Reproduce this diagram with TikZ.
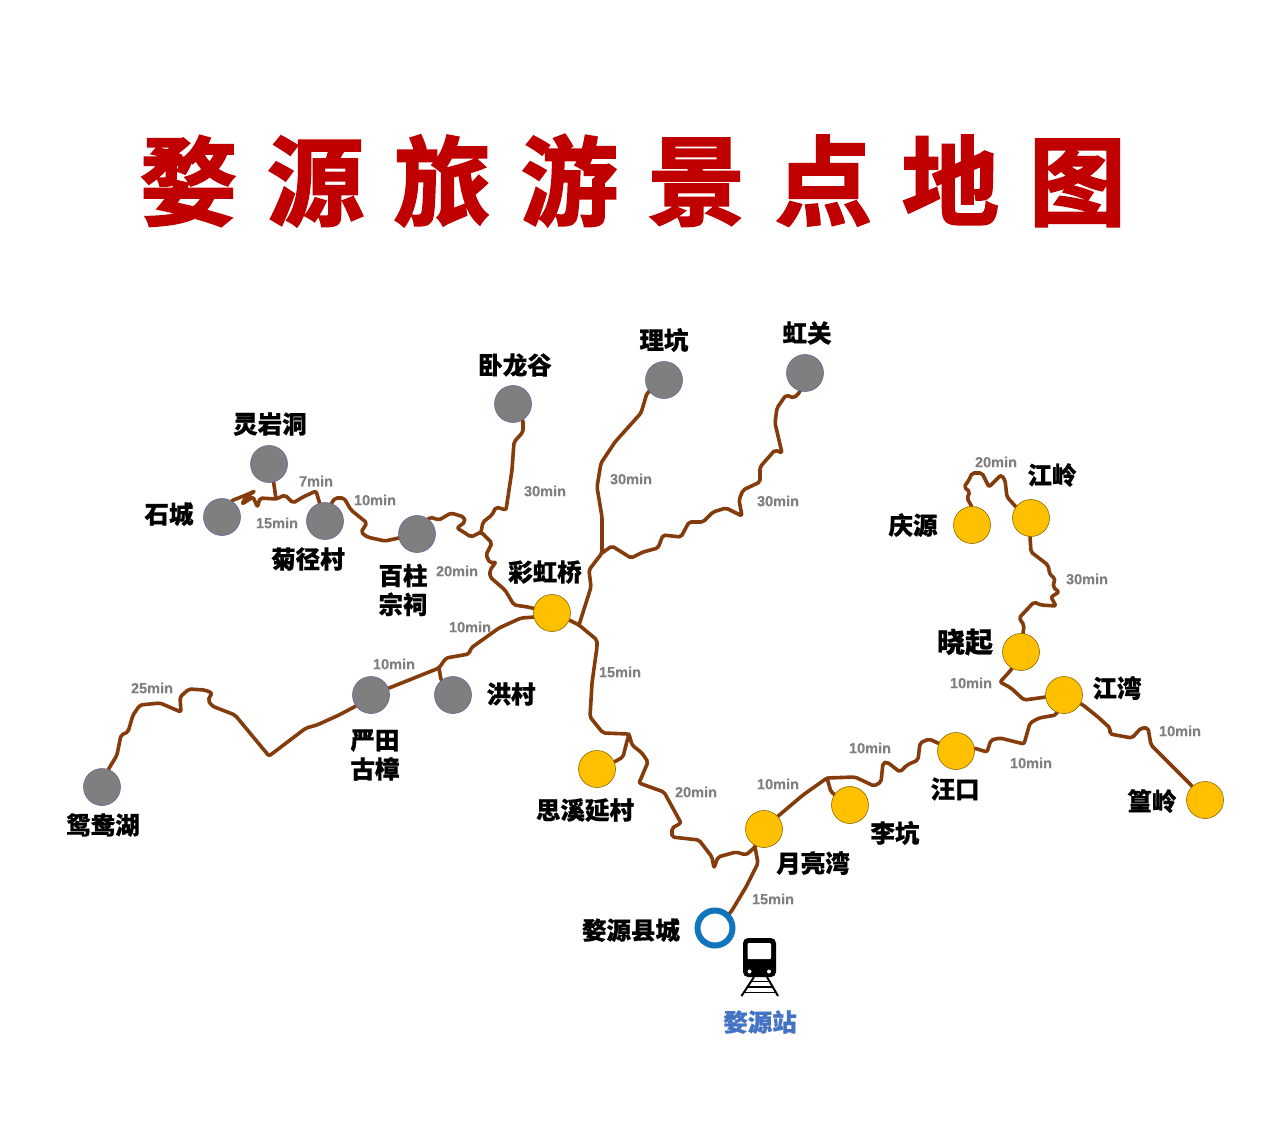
\documentclass[tikz,border=0pt]{standalone}
\usepackage{fontspec}
\setmainfont{Noto Sans CJK SC}[BoldFeatures={FakeBold=0.6}]
\newfontfamily\titlefont{Noto Sans CJK SC Bold}[FakeBold=2.2]
\newfontfamily\timefont{Liberation Sans}[BoldFeatures={FakeBold=0.2}]
\usetikzlibrary{backgrounds}
\definecolor{roadc}{HTML}{843C0C}
\definecolor{grayc}{HTML}{7F7F7F}
\definecolor{yellowc}{HTML}{FFC000}
\definecolor{titlec}{HTML}{C00000}
\definecolor{ringc}{HTML}{0F75BC}
\definecolor{stationc}{HTML}{4472C4}
\definecolor{timec}{HTML}{7F7F7F}
\tikzset{
  spotgray/.style={circle,minimum size=37pt,inner sep=0pt,fill=grayc,draw=grayc!80!blue,line width=.6pt},
  spotyellow/.style={circle,minimum size=37pt,inner sep=0pt,fill=yellowc,draw=yellowc!55!black,line width=.6pt},
  place/.style={font=\fontsize{24.5}{29}\selectfont\bfseries,text=black,inner sep=0pt,align=center},
  timing/.style={font=\timefont\fontsize{14.5}{16}\selectfont\bfseries,text=timec,inner sep=0pt},
  road/.style={draw=roadc,line width=3.6pt,line join=round,line cap=round,rounded corners=2pt},
}
\begin{document}
\begin{tikzpicture}[x=1pt,y=-1pt]
\useasboundingbox (0,0) rectangle (1280,1136);
\node[font=\titlefont\fontsize{97}{100}\selectfont,text=titlec,inner sep=0pt] (title) at (633,180.5)
  {婺\hspace{30pt}源\hspace{30pt}旅\hspace{30pt}游\hspace{30pt}景\hspace{30pt}点\hspace{30pt}地\hspace{30pt}图};

% spots
\node[spotgray] (lingyan) at (269,464) {};
\node[spotgray] (shicheng) at (222,517) {};
\node[spotgray] (jujing) at (325,521) {};
\node[spotgray] (baizhu) at (417,534) {};
\node[spotgray] (wolong) at (513,404) {};
\node[spotgray] (likeng) at (664,380) {};
\node[spotgray] (hongguan) at (805,373) {};
\node[spotgray] (yantian) at (371,695) {};
\node[spotgray] (hongcun) at (453,695) {};
\node[spotgray] (yuanyang) at (102,787) {};
\node[spotyellow] (caihong) at (552,613) {};
\node[spotyellow] (sixi) at (597,769) {};
\node[spotyellow] (yueliang) at (764,829) {};
\node[spotyellow] (likeng2) at (850,805) {};
\node[spotyellow] (wangkou) at (956,751) {};
\node[spotyellow] (jiangwan) at (1064,695) {};
\node[spotyellow] (xiaoqi) at (1021,652) {};
\node[spotyellow] (jiangling) at (1031,518) {};
\node[spotyellow] (qingyuan) at (972,525) {};
\node[spotyellow] (huangling) at (1205,800) {};
\node[circle,minimum size=35pt,inner sep=0pt,draw=ringc,line width=6pt,fill=white] (county) at (715,928) {};

% junctions
\coordinate (j1) at (276,499);
\coordinate (j2) at (481,532);
\coordinate (j3) at (439,668);
\coordinate (j4) at (602,553);
\coordinate (j5) at (579,625);
\coordinate (j6) at (629,734);
\coordinate (j7) at (827,778);
\coordinate (j8) at (755,847);

\begin{scope}[on background layer]
\fill[white] (0,0) rectangle (1280,1136);
\draw[road] (shicheng.center) -- (231,501) -- (246,495) -- (255,491) -- (246,497) -- (242,504) -- (253,497) -- (257.5,507) -- (260,498) -- (j1) -- (285,495) -- (293,503) -- (303,497) -- (316,491) -- (jujing.center);
\draw[road] (lingyan.center) -- (273.6,482) -- (j1);
\draw[road] (jujing.center) -- (331,504) -- (335,498) -- (344,498) -- (351,510) -- (367,523) -- (361,532) -- (367,537) -- (385,541) -- (baizhu.center);
\draw[road] (baizhu.center) -- (430,517) -- (439,520) -- (451,513) -- (464,517) -- (465,522) -- (457,528) -- (465,533) -- (471,537) -- (j2) -- (492,543) -- (486,555) -- (490,563) -- (496,562) -- (490,570) -- (490,577) -- (505,590) -- (514,605) -- (528,607) -- (caihong.center);
\draw[road] (wolong.center) -- (523,420) -- (523,432) -- (514,442) -- (512,470) -- (509,490) -- (506,510) -- (496,507) -- (492,515) -- (483,522) -- (j2);
\draw[road] (caihong.center) -- (535,617) -- (521,618) -- (499,628) -- (471,648) -- (469,654) -- (446,658) -- (j3) -- (389,688) -- (yantian.center);
\draw[road] (j3) -- (441,680) -- (hongcun.center);
\draw[road] (yantian.center) -- (356,706) -- (339,715) -- (317,725) -- (306,728) -- (269,756) -- (235,715) -- (212,706) -- (208,700) -- (212,693) -- (205,690) -- (189,689) -- (180,697) -- (181,712) -- (160,703) -- (140,705) -- (133,715) -- (128,732) -- (121,735) -- (117,755) -- (108,770) -- (yuanyang.center);
\draw[road] (caihong.center) -- (569,620) -- (j5) -- (597,640) -- (597,647) -- (592,683) -- (590,717) -- (603,733) -- (j6) -- (632,745) -- (642,753) -- (648,762) -- (639,783) -- (664,792) -- (681,823) -- (672,828) -- (672,837) -- (699,840) -- (712,857) -- (714,868) -- (718,857) -- (736,852) -- (746,855) -- (j8) -- (yueliang.center);
\draw[road] (j6) -- (626,745) -- (623,757) -- (614,762) -- (sixi.center);
\draw[road] (j8) -- (758,863) -- (746,887) -- (731,912) -- (county.center);
\draw[road] (yueliang.center) -- (777,817) -- (803,795) -- (j7) -- (855,777) -- (874,786) -- (881,782) -- (883,763) -- (887,762) -- (900,772) -- (907,765) -- (918,760) -- (920,743) -- (929,739) -- (wangkou.center);
\draw[road] (j7) -- (831,792) -- (likeng2.center);
\draw[road] (wangkou.center) -- (974,748) -- (987,752) -- (991,740) -- (1000,738) -- (1024,744) -- (1030,723) -- (1039,718) -- (1056,715) -- (jiangwan.center);
\draw[road] (jiangwan.center) -- (1083,705) -- (1098,717) -- (1110,728) -- (1110,734) -- (1132,738) -- (1141,728) -- (1148,728) -- (1151,745) -- (1191,785) -- (huangling.center);
\draw[road] (xiaoqi.center) -- (1011,670) -- (1000,682) -- (1011,688) -- (1024,700) -- (1046,697) -- (jiangwan.center);
\draw[road] (likeng.center) -- (647,393) -- (641,413) -- (615,442) -- (601,463) -- (597,487) -- (602,517) -- (j4) -- (589,570) -- (591,587) -- (j5);
\draw[road] (hongguan.center) -- (800,392) -- (794,398) -- (786,395) -- (777,408) -- (775,423) -- (782,453) -- (775,450) -- (760,467) -- (760,482) -- (743,490) -- (739,500) -- (742,516) -- (726,508) -- (713,512) -- (703,522) -- (689,522) -- (681,537) -- (663,535) -- (658,548) -- (643,552) -- (631,558) -- (612,546) -- (j4);
\draw[road] (qingyuan.center) -- (972,507) -- (967,498) -- (970,492) -- (964,487) -- (969,480) -- (972,473) -- (982,473) -- (989,487) -- (1001,475) -- (1005,480) -- (1007,497) -- (1017,508) -- (jiangling.center);
\draw[road] (jiangling.center) -- (1030,537) -- (1031,552) -- (1048,565) -- (1050,575) -- (1055,578) -- (1053,587) -- (1059,592) -- (1051,597) -- (1056,606) -- (1041,605) -- (1034,602) -- (1019,618) -- (1024,625) -- (xiaoqi.center);
\end{scope}

% labels
\node[place] (l1) at (270,424) {灵岩洞};
\node[place] (l2) at (169,514) {石城};
\node[place] (l3) at (308,559) {菊径村};
\node[place] (l4) at (403,590) {百柱\\宗祠};
\node[place] (l5) at (515,365) {卧龙谷};
\node[place] (l6) at (664,340) {理坑};
\node[place] (l7) at (807,333) {虹关};
\node[place] (l8) at (545,572) {彩虹桥};
\node[place] (l9) at (375,755) {严田\\古樟};
\node[place] (l10) at (511,694) {洪村};
\node[place] (l11) at (103,825) {鸳鸯湖};
\node[place] (l12) at (585,810) {思溪延村};
\node[place] (l13) at (813,863) {月亮湾};
\node[place] (l14) at (895,833) {李坑};
\node[place] (l15) at (955,789) {汪口};
\node[place] (l16) at (1117,688) {江湾};
\node[place,font=\fontsize{28}{30}\selectfont\bfseries] (l17) at (965,642) {晓起};
\node[place] (l18) at (1052,475) {江岭};
\node[place] (l19) at (913,525) {庆源};
\node[place] (l20) at (1152,801) {篁岭};
\node[place] (l21) at (631,930) {婺源县城};
\node[place,text=stationc] (l22) at (760,1022) {婺源站};

% timings
\node[timing] (t1) at (316,481) {7min};
\node[timing] (t2) at (277,523) {15min};
\node[timing] (t3) at (375,500) {10min};
\node[timing] (t4) at (545,491) {30min};
\node[timing] (t5) at (631,479) {30min};
\node[timing] (t6) at (778,501) {30min};
\node[timing] (t7) at (457,571) {20min};
\node[timing] (t8) at (470,627) {10min};
\node[timing] (t9) at (394,664) {10min};
\node[timing] (t10) at (152,688) {25min};
\node[timing] (t11) at (620,672) {15min};
\node[timing] (t12) at (696,792) {20min};
\node[timing] (t13) at (778,784) {10min};
\node[timing] (t14) at (870,748) {10min};
\node[timing] (t15) at (1031,763) {10min};
\node[timing] (t16) at (971,683) {10min};
\node[timing] (t17) at (1180,731) {10min};
\node[timing] (t18) at (1087,579) {30min};
\node[timing] (t19) at (996,462) {20min};
\node[timing] (t20) at (773,899) {15min};

% train symbol
\fill[black,rounded corners=5pt] (743,938) rectangle (776,977);
\fill[white,rounded corners=1pt] (747.5,943) rectangle (771,959);
\fill[white] (749.5,971.5) circle (2pt) (769,971.5) circle (2pt);
\draw[black,line width=2pt] (754,977) -- (741.5,996) (767,977) -- (778,996);
\draw[black,line width=1.6pt] (751,981.5) -- (770,981.5) (748,987) -- (773,987) (745,992.5) -- (775,992.5);
\end{tikzpicture}
\end{document}
